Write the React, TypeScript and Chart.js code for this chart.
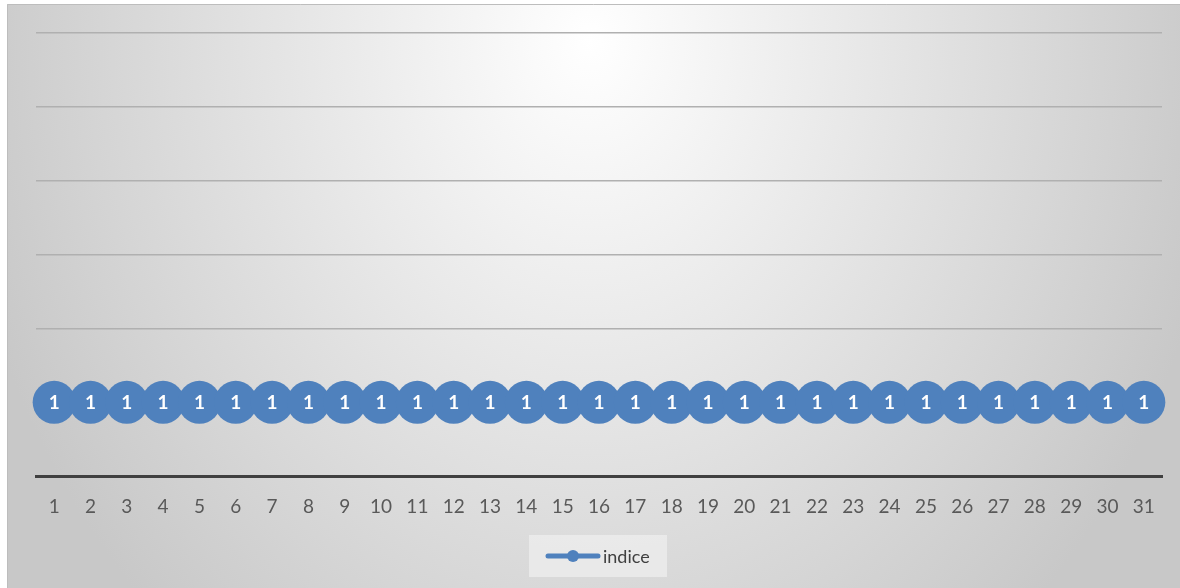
import React, { useEffect, useRef } from "react";
import { Chart, registerables } from "chart.js";

Chart.register(...registerables);

const categories = [
  "1", "2", "3", "4", "5", "6", "7", "8", "9", "10",
  "11", "12", "13", "14", "15", "16", "17", "18", "19", "20",
  "21", "22", "23", "24", "25", "26", "27", "28", "29", "30", "31",
];
const indice = [
  1, 1, 1, 1, 1, 1, 1, 1, 1, 1,
  1, 1, 1, 1, 1, 1, 1, 1, 1, 1,
  1, 1, 1, 1, 1, 1, 1, 1, 1, 1, 1,
];
const seriesName = "indice";
const yMin = 0;
const yMax = 6;
const yStep = 1;

const BLUE = "#4f81bd";
const FONT = "Lato, 'Liberation Sans', sans-serif";

const backgroundPlugin = {
  id: "bgFrame",
  beforeDraw(chart: any) {
    const { ctx, width, height } = chart;
    ctx.save();
    ctx.fillStyle = "#ffffff";
    ctx.fillRect(0, 0, width, height);
    const cx = 590, cy = 40, rx = 641, ry = 782;
    ctx.save();
    ctx.beginPath();
    ctx.rect(7, 4, width - 7, height - 4);
    ctx.clip();
    ctx.translate(cx, cy);
    ctx.scale(1, ry / rx);
    const g = ctx.createRadialGradient(0, 0, 0, 0, 0, rx);
    g.addColorStop(0, "#ffffff");
    g.addColorStop(1, "#c8c8c8");
    ctx.fillStyle = g;
    ctx.fillRect(-cx, -cy * rx / ry - 10, width + 20, (height + 20) * rx / ry + 20);
    ctx.restore();
    ctx.strokeStyle = "#bdbdbd";
    ctx.lineWidth = 1;
    ctx.beginPath();
    ctx.moveTo(7.5, height);
    ctx.lineTo(7.5, 4.5);
    ctx.lineTo(width, 4.5);
    ctx.stroke();

    // legend box
    const lx = 529, ly = 535, lw = 138, lh = 42;
    ctx.fillStyle = "rgba(240,240,240,0.7)";
    ctx.fillRect(lx, ly, lw, lh);
    ctx.restore();
  },
  afterDraw(chart: any) {
    const { ctx } = chart;
    ctx.save();
    const y = 556;
    ctx.strokeStyle = BLUE;
    ctx.lineWidth = 5;
    ctx.lineCap = "round";
    ctx.beginPath();
    ctx.moveTo(548, y);
    ctx.lineTo(598, y);
    ctx.stroke();
    ctx.fillStyle = BLUE;
    ctx.beginPath();
    ctx.arc(573, y, 6, 0, Math.PI * 2);
    ctx.fill();
    ctx.fillStyle = "#404040";
    ctx.font = `18px ${FONT}`;
    ctx.textAlign = "left";
    ctx.textBaseline = "middle";
    ctx.fillText(seriesName, 603, y + 1);
    ctx.restore();
  },
};

const dataLabelPlugin = {
  id: "dataLabels",
  afterDatasetsDraw(chart: any) {
    const { ctx } = chart;
    ctx.save();
    ctx.fillStyle = "#ffffff";
    ctx.font = `bold 19px ${FONT}`;
    ctx.textAlign = "center";
    ctx.textBaseline = "middle";
    chart.data.datasets.forEach((ds: any, di: number) => {
      const meta = chart.getDatasetMeta(di);
      meta.data.forEach((el: any, i: number) => {
        ctx.fillText(String(ds.data[i]), el.x, el.y + 1);
      });
    });
    ctx.restore();
  },
};

export default function App() {
  const ref = useRef<HTMLCanvasElement | null>(null);
  useEffect(() => {
    if (!ref.current) return;
    const chart = new Chart(ref.current, {
      type: "line",
      data: {
        labels: categories,
        datasets: [
          {
            label: seriesName,
            data: indice,
            borderColor: BLUE,
            backgroundColor: BLUE,
            borderWidth: 4,
            pointRadius: 21.5,
            pointHoverRadius: 21.5,
            pointBackgroundColor: BLUE,
            pointBorderWidth: 0,
            clip: false as any,
          },
        ],
      },
      options: {
        responsive: false,
        animation: false,
        devicePixelRatio: 1,
        layout: { autoPadding: false, padding: { left: 36, right: 18, top: 33, bottom: 51 } },
        plugins: {
          legend: { display: false },
          tooltip: { enabled: false },
        },
        scales: {
          x: {
            offset: true,
            grid: { display: false, drawTicks: false },
            border: { display: true, color: "#404040", width: 3 },
            ticks: {
              color: "#595959",
              font: { family: FONT, size: 19 },
              padding: 19,
              maxRotation: 0,
              autoSkip: false,
            },
          },
          y: {
            min: yMin,
            max: yMax,
            ticks: { display: false, stepSize: yStep },
            border: { display: false },
            grid: {
              drawTicks: false,
              lineWidth: 1.5,
              color: (c: any) => (c.tick && c.tick.value === 0 ? "rgba(0,0,0,0)" : "#b0b0b0"),
            },
          },
        },
      },
      plugins: [backgroundPlugin, dataLabelPlugin],
    });
    return () => chart.destroy();
  }, []);
  return (
    <div style={{ position: "absolute", left: 0, top: 0, width: 1180, height: 588 }}>
      <canvas ref={ref} width={1180} height={588} style={{ width: 1180, height: 588, display: "block" }} />
    </div>
  );
}
